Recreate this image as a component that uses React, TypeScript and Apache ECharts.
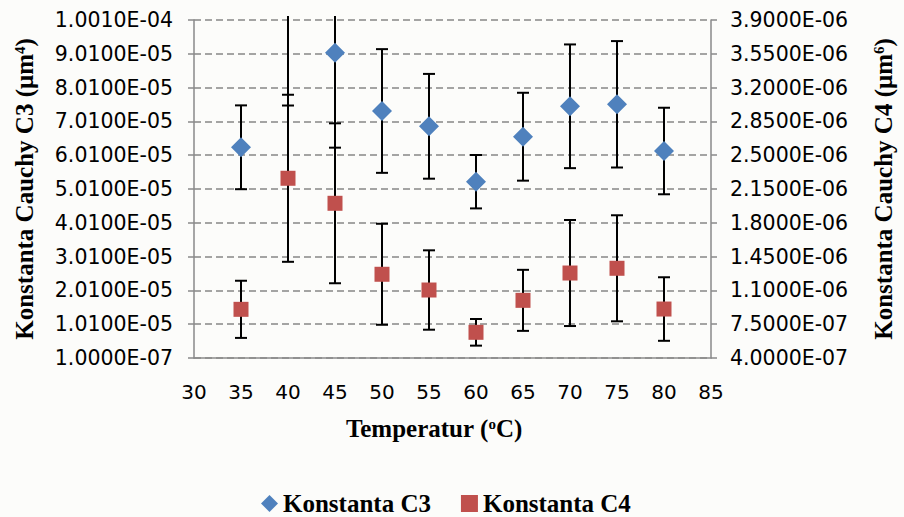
import React, { useEffect, useRef } from 'react';
import * as echarts from 'echarts';

// Temperature (°C)
const temperatures = [35, 40, 45, 50, 55, 60, 65, 70, 75, 80];
// Konstanta C3 (µm^4) and its error
const c3Values = [6.244e-5, 1.07e-4, 9.043e-5, 7.318e-5, 6.865e-5, 5.226e-5, 6.557e-5, 7.457e-5, 7.516e-5, 6.134e-5];
const c3Errors = [1.24e-5, 3.22e-5, 2.81e-5, 1.83e-5, 1.55e-5, 0.79e-5, 1.3e-5, 1.83e-5, 1.87e-5, 1.28e-5];
// Konstanta C4 (µm^6) and its error
const c4Values = [9.04e-7, 2.261e-6, 2.002e-6, 1.267e-6, 1.104e-6, 6.66e-7, 9.97e-7, 1.28e-6, 1.329e-6, 9.07e-7];
const c4Errors = [2.96e-7, 8.65e-7, 8.28e-7, 5.23e-7, 4.11e-7, 1.38e-7, 3.16e-7, 5.49e-7, 5.49e-7, 3.29e-7];

// axis scales
const xAxisRange = [30, 85, 5];
const leftAxisRange = [1e-7, 1.001e-4, 1e-5];
const rightAxisRange = [4e-7, 3.9e-6, 3.5e-7];

const seriesNames = ['Konstanta C3', 'Konstanta C4'];

const formatExp = (v: number) => {
  const [m, e] = v.toExponential(4).split('e');
  const n = parseInt(e, 10);
  return m + 'E' + (n < 0 ? '-' : '+') + String(Math.abs(n)).padStart(2, '0');
};

const SERIF = '"Liberation Serif", "Times New Roman", serif';
const SANS = '"DejaVu Sans", sans-serif';

const titleRich = {
  t: { fontFamily: SERIF, fontWeight: 'bold', fontSize: 25, color: '#000' },
  s: { fontFamily: SERIF, fontWeight: 'bold', fontSize: 15, color: '#000', verticalAlign: 'top' },
};

const errorBarRender = (params: any, api: any) => {
  const x = api.value(0);
  const lo = api.value(1);
  const hi = api.value(2);
  const cs = params.coordSys;
  const pLo = api.coord([x, lo]);
  const pHi = api.coord([x, hi]);
  const top = cs.y - 4;
  const bottom = cs.y + cs.height;
  const yHi = Math.max(pHi[1], top);
  const yLo = Math.min(pLo[1], bottom);
  const half = 6;
  const style = { stroke: '#000', lineWidth: 2 };
  const children: any[] = [
    { type: 'line', shape: { x1: pHi[0], y1: yHi, x2: pHi[0], y2: yLo }, style },
  ];
  if (pHi[1] >= top) {
    children.push({ type: 'line', shape: { x1: pHi[0] - half, y1: pHi[1], x2: pHi[0] + half, y2: pHi[1] }, style });
  }
  if (pLo[1] <= bottom) {
    children.push({ type: 'line', shape: { x1: pLo[0] - half, y1: pLo[1], x2: pLo[0] + half, y2: pLo[1] }, style });
  }
  return { type: 'group', children };
};

export default function App() {
  const ref = useRef<HTMLDivElement>(null);

  useEffect(() => {
    if (!ref.current) return;
    const chart = echarts.init(ref.current, undefined, { renderer: 'svg' });

    const c3Points = temperatures.map((t, i) => [t, c3Values[i]]);
    const c4Points = temperatures.map((t, i) => [t, c4Values[i]]);
    const c3Bars = temperatures.map((t, i) => [t, c3Values[i] - c3Errors[i], c3Values[i] + c3Errors[i]]);
    const c4Bars = temperatures.map((t, i) => [t, c4Values[i] - c4Errors[i], c4Values[i] + c4Errors[i]]);

    const axisLineStyle = { color: '#8a8a8a', width: 1.5 };

    chart.setOption({
      animation: false,
      backgroundColor: '#fcfcfa',
      grid: { left: 194, right: 189, top: 20, bottom: 159 },
      xAxis: {
        type: 'value',
        min: xAxisRange[0],
        max: xAxisRange[1],
        interval: xAxisRange[2],
        name: '{t|Temperatur (}{s|o}{t|C)}',
        nameLocation: 'middle',
        nameGap: 58,
        nameTextStyle: { rich: titleRich, padding: [0, 37, 0, 0] },
        axisLine: { show: true, lineStyle: axisLineStyle },
        axisTick: { show: false },
        splitLine: { show: false },
        axisLabel: { fontFamily: SANS, fontSize: 20, color: '#000', margin: 24 },
      },
      yAxis: [
        {
          type: 'value',
          position: 'left',
          min: leftAxisRange[0],
          max: leftAxisRange[1],
          interval: leftAxisRange[2],
          name: '{t|Konstanta Cauchy C3 (μm}{s|4}{t|)}',
          nameLocation: 'middle',
          nameGap: 157,
          nameTextStyle: { rich: titleRich },
          axisLine: { show: true, lineStyle: axisLineStyle },
          axisTick: { show: true, length: 6, lineStyle: axisLineStyle },
          axisLabel: { fontFamily: SANS, fontSize: 20.5, color: '#000', margin: 21, formatter: formatExp },
          splitLine: { show: true, lineStyle: { color: '#878787', width: 1.6, type: [7, 4] } },
        },
        {
          type: 'value',
          position: 'right',
          min: rightAxisRange[0],
          max: rightAxisRange[1],
          interval: rightAxisRange[2],
          name: '{t|Konstanta Cauchy C4 (μm}{s|6}{t|)}',
          nameLocation: 'middle',
          nameGap: 160,
          nameTextStyle: { rich: titleRich },
          axisLine: { show: true, lineStyle: axisLineStyle },
          axisTick: { show: true, length: 6, lineStyle: axisLineStyle },
          axisLabel: { fontFamily: SANS, fontSize: 20.5, color: '#000', margin: 19, formatter: formatExp },
          splitLine: { show: false },
        },
      ],
      legend: {
        left: 256,
        top: 486,
        itemGap: 30,
        itemWidth: 17,
        itemHeight: 17,
        textStyle: { fontFamily: SERIF, fontWeight: 'bold', fontSize: 25, color: '#000' },
        data: [
          { name: seriesNames[0], icon: 'diamond' },
          { name: seriesNames[1], icon: 'rect' },
        ],
      },
      series: [
        {
          type: 'custom',
          name: 'C3 error',
          yAxisIndex: 0,
          renderItem: errorBarRender,
          encode: { x: 0, y: [1, 2] },
          data: c3Bars,
          z: 2,
          silent: true,
        },
        {
          type: 'custom',
          name: 'C4 error',
          yAxisIndex: 1,
          renderItem: errorBarRender,
          encode: { x: 0, y: [1, 2] },
          data: c4Bars,
          z: 2,
          silent: true,
        },
        {
          type: 'scatter',
          name: seriesNames[0],
          yAxisIndex: 0,
          symbol: 'diamond',
          symbolSize: 20,
          itemStyle: { color: '#4F81BD', opacity: 1 },
          data: c3Points,
          z: 5,
        },
        {
          type: 'scatter',
          name: seriesNames[1],
          yAxisIndex: 1,
          symbol: 'rect',
          symbolSize: 15,
          itemStyle: { color: '#C0504D', opacity: 1 },
          data: c4Points,
          z: 5,
        },
      ],
    });

    return () => chart.dispose();
  }, []);

  return (
    <div
      ref={ref}
      style={{ position: 'absolute', left: 0, top: 0, width: 904, height: 517 }}
    />
  );
}
